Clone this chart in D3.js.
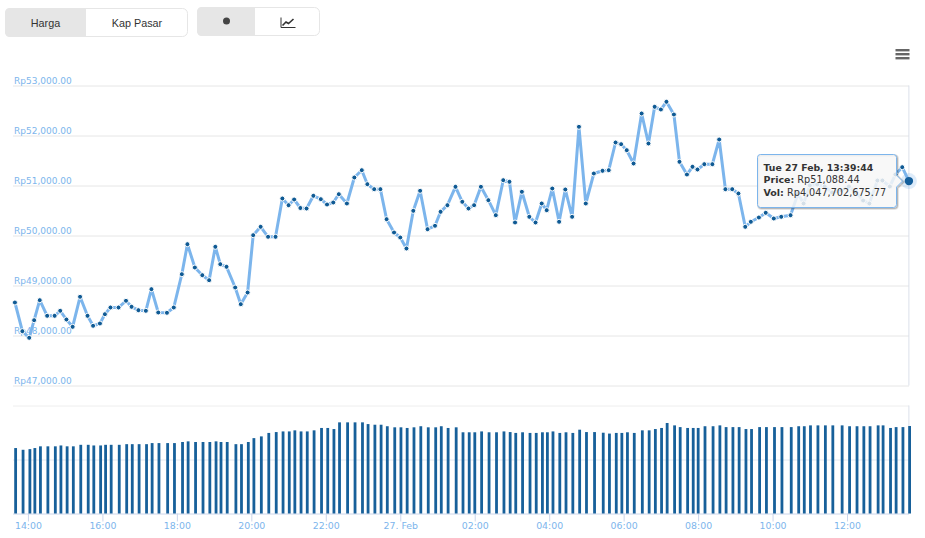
<!DOCTYPE html>
<html>
<head>
<meta charset="utf-8">
<script src="https://cdnjs.cloudflare.com/ajax/libs/d3/7.8.5/d3.min.js"></script>
<style>
html,body{margin:0;padding:0;background:#fff;overflow:hidden}
svg{display:block}
</style>
</head>
<body>
<svg id="c" width="925" height="538"></svg>
<script>
// Minutes after 26 Feb 14:00
const minutes = [-21,-9,2,10,19,31,43,52,62,72,84,96,105,116,124,133,146,158,167,178,190,199,210,224,235,248,257,269,281,292,302,310,320,334,343,354,363,375,387,399,410,420,429,
439,449,460,472,482,492,501,514,526,538,547,558,568,578,590,600,610,621,632,644,656,665,676,689,700,710,719,730,742,754,766,776,785,796,808,818,828,836,845,856,866,877,888,899,912,
926,936,947,956,965,976,989,1000,1010,1020,1029,1041,1050,1062,1071,1079,1090,1103,1114,1124,1135,1145,1156,1165,1178,1189,1202,1214,1229,1241,1250,1260,1272,1284,1296,1311,1323,1335,1346,1356,1369,1377,1389,1398,1409,1419.73];
const price = [48660,48086,47954,48306,48706,48394,48394,48494,48320,48174,48774,48394,48194,48240,48426,48560,48560,48694,48574,48506,48494,48926,48460,48454,48560,49226,49826,49360,49206,49106,49774,49426,49374,48960,48626,48860,50006,50174,49974,49974,50740,50606,50720,
50550,50540,50794,50726,50620,50660,50826,50640,51160,51306,51026,50926,50926,50326,50060,49960,49740,50494,50894,50126,50194,50474,50606,50974,50674,50540,50606,50974,50706,50406,51106,51074,50260,50874,50374,50260,50640,50506,50940,50274,50920,50374,52174,50640,51240,
51294,51306,51860,51826,51706,51440,52440,51840,52574,52520,52674,52420,51474,51220,51374,51320,51426,51426,51920,50926,50926,50840,50174,50274,50360,50454,50340,50374,50406,50840,50640,51000,51020,50980,50860,50900,50980,50860,50700,50640,51100,51100,50980,51220,51366,51088.44];
// Volume in billions of rupiah
const volume = [3.03,2.95,2.98,3.03,3.11,3.11,3.11,3.15,3.11,3.11,3.18,3.18,3.15,3.15,3.18,3.18,3.18,3.21,3.21,3.21,3.21,3.26,3.26,3.26,3.26,3.31,3.34,3.31,3.31,3.31,3.34,3.31,3.31,3.21,3.21,3.31,3.49,3.57,3.73,3.77,3.80,3.80,3.85,
3.80,3.80,3.85,3.96,3.96,3.91,4.22,4.22,4.22,4.22,4.14,4.11,4.11,4.04,3.99,3.99,3.96,3.99,4.04,3.99,3.99,4.04,3.96,3.99,3.76,3.76,3.76,3.80,3.76,3.76,3.80,3.77,3.73,3.76,3.73,3.73,3.76,3.76,3.80,3.73,3.76,3.73,3.88,3.77,3.77,
3.74,3.70,3.73,3.73,3.76,3.73,3.85,3.85,3.91,3.96,4.19,4.08,4.00,3.96,3.96,3.96,4.04,4.04,4.08,4.00,4.00,4.00,3.91,3.91,4.00,4.00,4.00,4.00,4.00,4.04,4.04,4.08,4.08,4.08,4.08,4.08,4.04,4.04,4.04,4.04,4.08,4.08,3.96,4.00,4.00,4.05];

const priceTicks = [47000,48000,49000,50000,51000,52000,53000];
const volumeTicks = [0,2.5,5];
const timeTicks = [0,120,240,360,480,600,720,840,960,1080,1200,1320];
const timeLabels = ["14:00","16:00","18:00","20:00","22:00","27. Feb","02:00","04:00","06:00","08:00","10:00","12:00"];
const rangeButtons = ["Harga","Kap Pasar"];
const tooltipLines = [["Tue 27 Feb, 13:39:44",""],["Price:"," Rp51,088.44"],["Vol:"," Rp4,047,702,675.77"]];

const FONT = "'DejaVu Sans',sans-serif";
const BLUE = "#7cb5ec", DARK = "#0f5a94";
const svg = d3.select("#c");
const rows = minutes.map((m,i)=>({m,p:price[i],v:volume[i]}));

const x = d3.scaleLinear().domain([-22,1419.73]).range([14.3,908.9]);
const y = d3.scaleLinear().domain([47000,53000]).range([385.5,85.5]);
const yv = d3.scaleLinear().domain([0,5]).range([513.5,405.5]);

// ---- price axis
const gy = svg.append("g").attr("transform","translate(13,0)")
  .call(d3.axisRight(y).tickValues(priceTicks).tickSize(896)
    .tickFormat(d=>"Rp"+d3.format(",.2f")(d)));
gy.select(".domain").remove();
gy.selectAll("line").attr("stroke","#e6e6e6");
gy.selectAll("text").attr("x",1).attr("dy",0).attr("y",-2)
  .attr("text-anchor","start").attr("fill",BLUE)
  .style("font",`9px ${FONT}`);

// ---- volume grid
const gv = svg.append("g").attr("transform","translate(13,0)")
  .call(d3.axisRight(yv).tickValues(volumeTicks).tickSize(896).tickFormat(""));
gv.select(".domain").remove();
gv.selectAll("line").attr("stroke",d=>d===5?"#eeeeee":d===0?"#ccd6eb":"#e2e8f0");

// right edge lines
[[85.5,385.5],[405.5,513.5]].forEach(([a,b])=>
  svg.append("line").attr("x1",908.9).attr("x2",908.9).attr("y1",a).attr("y2",b).attr("stroke","#dbe0ea"));

// ---- time axis
const gx = svg.append("g").attr("transform","translate(0,513.5)")
  .call(d3.axisBottom(x).tickValues(timeTicks).tickSize(8).tickPadding(1)
    .tickFormat((d,i)=>timeLabels[i]));
gx.select(".domain").remove();
gx.selectAll("line").attr("stroke","#ccd6eb");
gx.selectAll("text").attr("fill",BLUE).style("font",`9.4px ${FONT}`);

// ---- volume bars
svg.append("g").selectAll("rect").data(rows).join("rect")
  .attr("x",d=>x(d.m)-0.7).attr("width",2.8)
  .attr("y",d=>yv(d.v)).attr("height",d=>yv(0)-yv(d.v))
  .attr("fill","#17609a");

// ---- price line
svg.append("path").datum(rows)
  .attr("d",d3.line().x(d=>x(d.m)).y(d=>y(d.p)))
  .attr("fill","none").attr("stroke",BLUE).attr("stroke-width",3).attr("stroke-linejoin","round");
svg.append("g").selectAll("circle").data(rows.slice(0,-1)).join("circle")
  .attr("cx",d=>x(d.m)).attr("cy",d=>y(d.p)).attr("r",2.5)
  .attr("fill",DARK).attr("stroke","#fff").attr("stroke-width",1);

// hovered last point
const last = rows[rows.length-1];
svg.append("circle").attr("cx",x(last.m)).attr("cy",y(last.p)).attr("r",8).attr("fill",BLUE).attr("opacity",.25);
svg.append("circle").attr("cx",x(last.m)).attr("cy",y(last.p)).attr("r",4.2).attr("fill","#145f9c");

// ---- tooltip
const tip = svg.append("g");
const tx=757.5, tr=896.5, tt=154.5, tb=207.5, ay=y(last.p);
const tipPath = `M${tx+3},${tt}H${tr-3}Q${tr},${tt} ${tr},${tt+3}V${ay-6}L${tr+6},${ay}L${tr},${ay+6}V${tb-3}Q${tr},${tb} ${tr-3},${tb}H${tx+3}Q${tx},${tb} ${tx},${tb-3}V${tt+3}Q${tx},${tt} ${tx+3},${tt}Z`;
[[3,.05],[2,.1],[1,.15]].forEach(([w,o])=>tip.append("path").attr("d",tipPath)
  .attr("transform","translate(1,1)").attr("fill","none").attr("stroke","#000").attr("stroke-opacity",o).attr("stroke-width",w));
tip.append("path").attr("d",tipPath).attr("fill","#f7f7f7").attr("fill-opacity",.85)
  .attr("stroke",BLUE).attr("stroke-width",1);
tooltipLines.forEach((l,i)=>{
  const t = tip.append("text").attr("x",763.5).attr("y",170.5+i*12.6)
    .attr("fill","#333").style("font",`9.7px ${FONT}`);
  t.append("tspan").style("font-weight","bold").style("font-size",i===0?"9.3px":"9.5px").text(l[0]);
  if(l[1]) t.append("tspan").text(l[1]);
});

// ---- range buttons
function group(x0,x1,y0,y1,split){
  const g = svg.append("g");
  g.append("rect").attr("x",x0+.5).attr("y",y0+.5).attr("width",x1-x0-1).attr("height",y1-y0-1)
    .attr("rx",5).attr("fill","#fff").attr("stroke","#e6e6e6");
  g.append("path").attr("d",`M${split},${y0}H${x0+5}Q${x0},${y0} ${x0},${y0+5}V${y1-5}Q${x0},${y1} ${x0+5},${y1}H${split}Z`).attr("fill","#e6e6e6");
  return g;
}
const g1 = group(5,188,8,37,86);
g1.selectAll("text.b").data(rangeButtons).join("text").attr("class","b")
  .attr("x",(d,i)=>[45.5,137][i]).attr("y",27).attr("text-anchor","middle")
  .attr("fill","#333").style("font","10.8px 'Liberation Sans',Arial,sans-serif").text(d=>d);
const g2 = group(197,320,7,36,255);
g2.append("circle").attr("cx",226.5).attr("cy",21).attr("r",3.5).attr("fill","#444");
g2.append("path").attr("d","M281,17.5V27.5H295.5").attr("fill","none").attr("stroke","#333").attr("stroke-width",1);
g2.append("path").attr("d","M282.5,25.5L286,22L288.5,23.5L293.5,19").attr("fill","none").attr("stroke","#333").attr("stroke-width",1.6);

// ---- menu icon
[49,53,57].forEach(v=>svg.append("rect").attr("x",895.5).attr("y",v).attr("width",14).attr("height",2.4).attr("fill","#666"));
</script>
</body>
</html>
